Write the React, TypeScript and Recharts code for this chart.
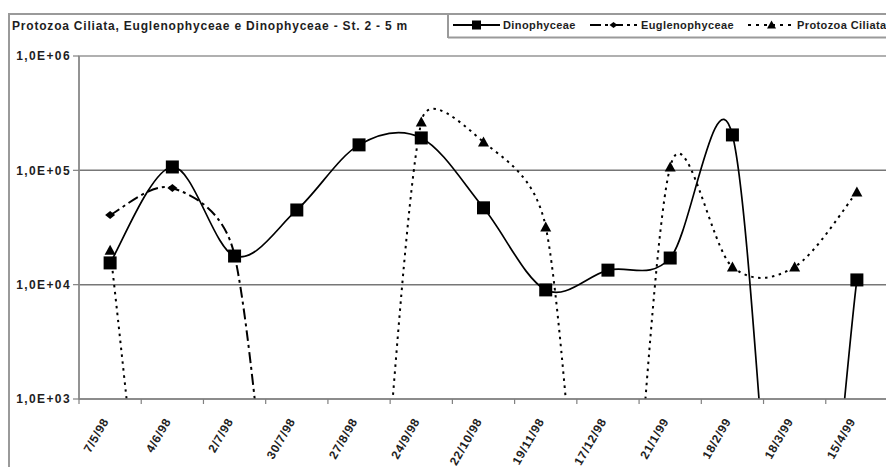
import React from 'react';
import { LineChart, Line, XAxis, YAxis, CartesianGrid, Legend, Customized } from 'recharts';

// ---------- data ----------
const dates = ['7/5/98', '4/6/98', '2/7/98', '30/7/98', '27/8/98', '24/9/98', '22/10/98', '19/11/98', '17/12/98', '21/1/99', '18/2/99', '18/3/99', '15/4/99'];
const dinophyceae = [15500, 107000, 17800, 45000, 167000, 192000, 47000, 9000, 13400, 17100, 204000, 0, 11000];
const euglenophyceae = [40700, 70000, 18000, 0, 0, 0, 0, 0, 0, 0, 0, 0, 0];
const protozoaCiliata = [20000, 0, 0, 0, 0, 265000, 177000, 32000, 0, 107000, 14300, 14300, 64600];
const yTicks = [1000, 10000, 100000, 1000000];
const seriesNames = ['Dinophyceae', 'Euglenophyceae', 'Protozoa Ciliata'];
const title = 'Protozoa Ciliata, Euglenophyceae e Dinophyceae - St. 2 - 5 m';

// zero counts cannot sit on a log axis; like the spreadsheet, they are drawn far below the axis floor
const LOG_FLOOR = 1;

const data = dates.map((d, i) => ({
  date: d,
  dino: dinophyceae[i],
  eug: euglenophyceae[i],
  proto: protozoaCiliata[i],
}));

// ---------- layout ----------
const W = 886;
const H = 467;
const PL = 71;
const PT = 48;
const PW = 809;
const PH = 343;
const BAND = PW / dates.length;
const FONT = '"Liberation Sans", Arial, Helvetica, sans-serif';
const TXT = '#1e1e1e';

// Excel-like smoothing: Catmull-Rom bezier with control arms limited to half the segment
function excelSmooth(context: any) {
  let pts: [number, number][] = [];
  return {
    areaStart() {},
    areaEnd() {},
    lineStart() {
      pts = [];
    },
    point(x: number, y: number) {
      pts.push([+x, +y]);
    },
    lineEnd() {
      const n = pts.length;
      if (!n) return;
      context.moveTo(pts[0][0], pts[0][1]);
      if (n === 1) return;
      const P = (i: number) => pts[Math.max(0, Math.min(n - 1, i))];
      for (let i = 0; i < n - 1; i++) {
        const p0 = P(i - 1), p1 = P(i), p2 = P(i + 1), p3 = P(i + 2);
        const d12 = Math.hypot(p2[0] - p1[0], p2[1] - p1[1]);
        const t1x = p2[0] - p0[0], t1y = p2[1] - p0[1];
        const t2x = p3[0] - p1[0], t2y = p3[1] - p1[1];
        const l1 = Math.hypot(t1x, t1y), l2 = Math.hypot(t2x, t2y);
        let f1 = 1 / 6, f2 = 1 / 6;
        if (l1 > 0 && l1 / 6 > d12 / 2) f1 = d12 / 2 / l1;
        if (l2 > 0 && l2 / 6 > d12 / 2) f2 = d12 / 2 / l2;
        context.bezierCurveTo(
          p1[0] + t1x * f1, p1[1] + t1y * f1,
          p2[0] - t2x * f2, p2[1] - t2y * f2,
          p2[0], p2[1]
        );
      }
    },
  };
}

const square = (cx: number, cy: number, s: number) => (
  <rect x={cx - s / 2} y={cy - s / 2} width={s} height={s} fill="#000" />
);
const triangle = (cx: number, cy: number, w: number, h: number) => (
  <polygon points={`${cx},${cy - h * 0.55} ${cx + w / 2},${cy + h * 0.45} ${cx - w / 2},${cy + h * 0.45}`} fill="#000" />
);
const diamond = (cx: number, cy: number, w: number, h: number) => (
  <polygon points={`${cx},${cy - h / 2} ${cx + w / 2},${cy} ${cx},${cy + h / 2} ${cx - w / 2},${cy}`} fill="#000" />
);

const makeDot = (field: 'dino' | 'eug' | 'proto', kind: string) => (p: any) => {
  const key = `${field}-${p.index}`;
  const raw = p.payload ? p.payload[field] : 0;
  if (!raw || !isFinite(p.cy)) return <g key={key} />;
  return (
    <g key={key}>
      {kind === 'square' && square(p.cx, p.cy, 13)}
      {kind === 'triangle' && triangle(p.cx, p.cy, 11, 10)}
      {kind === 'diamond' && diamond(p.cx, p.cy, 10, 8)}
    </g>
  );
};

const XTick = (props: any) => {
  const { x, y, payload, index } = props;
  return (
    <g>
      <line x1={x - BAND / 2} y1={y} x2={x - BAND / 2} y2={y + 5} stroke="#808080" strokeWidth={1.2} />
      {index === dates.length - 1 && (
        <line x1={x + BAND / 2} y1={y} x2={x + BAND / 2} y2={y + 5} stroke="#808080" strokeWidth={1.2} />
      )}
      <text
        transform={`translate(${x - 1},${y + 22}) rotate(-60)`}
        textAnchor="end"
        fontFamily={FONT}
        fontSize={12}
        fontWeight="bold"
        fill={TXT}
        style={{ letterSpacing: '0.7px' }}
      >
        {payload.value}
      </text>
    </g>
  );
};

const fmtY = (v: number) => `1,0E+${String(Math.round(Math.log10(v))).padStart(2, '0')}`;

const YTick = (props: any) => {
  const { x, y, payload } = props;
  return (
    <text
      x={x}
      y={y}
      dy={4.3}
      textAnchor="end"
      fontFamily={FONT}
      fontSize={12}
      fontWeight="bold"
      fill={TXT}
      style={{ letterSpacing: '1.4px' }}
    >
      {fmtY(payload.value)}
    </text>
  );
};

const Frame = () => (
  <g>
    <rect x={1} y={6} width={W + 40} height={H + 40} fill="none" stroke="#9a9a9a" strokeWidth={2} />
    <text x={4} y={22} fontFamily={FONT} fontSize={12} fontWeight="bold" fill={TXT} style={{ letterSpacing: '0.8px' }}>
      {title}
    </text>
    <rect x={PL} y={PT} width={PW} height={PH} fill="none" stroke="#b8b8b8" strokeWidth={1.5} />
  </g>
);

const LegendBox = () => {
  const cy = 12;
  const keyW = 47;
  const items = [
    { x: 6, tx: 56, dash: undefined as string | undefined, marker: 'square' },
    { x: 143, tx: 194, dash: '11 4 3 4', marker: 'diamond' },
    { x: 301, tx: 350, dash: '3 5', marker: 'triangle' },
  ];
  return (
    <svg width={447} height={26} style={{ display: 'block' }}>
      <rect x={0} y={0} width={447} height={26} fill="#fff" />
      <path d="M1,25 V1 H447 M1,24.5 H447" fill="none" stroke="#9a9a9a" strokeWidth={2} />
      {items.map((it, i) => {
        const mx = it.x + keyW / 2;
        return (
          <g key={seriesNames[i]}>
            <line x1={it.x} y1={cy} x2={it.x + keyW} y2={cy} stroke="#000" strokeWidth={1.8} strokeDasharray={it.dash} />
            {it.marker === 'square' && square(mx, cy, 9)}
            {it.marker === 'diamond' && diamond(mx, cy, 8, 6)}
            {it.marker === 'triangle' && triangle(mx, cy, 9, 8)}
            <text x={it.tx} y={cy + 4} fontFamily={FONT} fontSize={11} fontWeight="bold" fill={TXT} style={{ letterSpacing: '0.4px' }}>
              {seriesNames[i]}
            </text>
          </g>
        );
      })}
    </svg>
  );
};

export default function App() {
  return (
    <div style={{ width: W, height: H, marginBottom: -8, overflow: 'hidden' }}>
      <LineChart width={W} height={H} data={data} margin={{ top: PT, right: W - PL - PW, bottom: 0, left: 0 }}>
        <Customized component={Frame} />
        <CartesianGrid vertical={false} stroke="#777" strokeWidth={1.5} />
        <XAxis
          dataKey="date"
          scale="band"
          interval={0}
          height={H - PT - PH}
          tickLine={false}
          tickSize={0}
          tickMargin={0}
          axisLine={{ stroke: '#808080', strokeWidth: 1.5 }}
          tick={(p: any) => <XTick {...p} />}
        />
        <YAxis
          scale="log"
          domain={[1000, 1000000]}
          allowDataOverflow
          ticks={yTicks}
          interval={0}
          width={PL}
          tickSize={6}
          tickMargin={2}
          axisLine={{ stroke: '#808080', strokeWidth: 1.5 }}
          tickLine={{ stroke: '#808080', strokeWidth: 1.2 }}
          tick={(p: any) => <YTick {...p} />}
        />
        <Legend
          layout="horizontal"
          verticalAlign="middle"
          align="center"
          wrapperStyle={{ position: 'absolute', left: 439, top: 5, width: 447, height: 26 }}
          content={() => <LegendBox />}
        />
        <Line
          dataKey={(d: any) => Math.max(d.proto, LOG_FLOOR)}
          name={seriesNames[2]}
          type={excelSmooth as any}
          stroke="#000"
          strokeWidth={2}
          strokeDasharray="2.5 4.5"
          dot={makeDot('proto', 'triangle')}
          activeDot={false}
          isAnimationActive={false}
        />
        <Line
          dataKey={(d: any) => Math.max(d.eug, LOG_FLOOR)}
          name={seriesNames[1]}
          type={excelSmooth as any}
          stroke="#000"
          strokeWidth={2}
          strokeDasharray="11 4 3 4"
          dot={makeDot('eug', 'diamond')}
          activeDot={false}
          isAnimationActive={false}
        />
        <Line
          dataKey={(d: any) => Math.max(d.dino, LOG_FLOOR)}
          name={seriesNames[0]}
          type={excelSmooth as any}
          stroke="#000"
          strokeWidth={1.7}
          dot={makeDot('dino', 'square')}
          activeDot={false}
          isAnimationActive={false}
        />
      </LineChart>
    </div>
  );
}
